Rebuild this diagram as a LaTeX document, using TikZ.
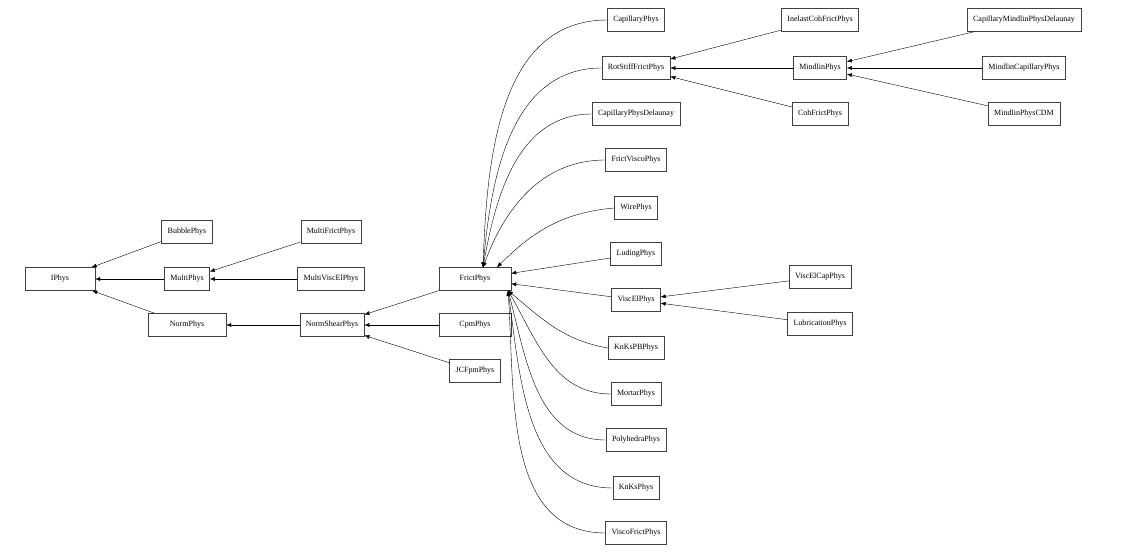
\documentclass[tikz,border=0pt]{standalone}
\usepackage{fontspec}
\setmainfont{Liberation Serif}
\usetikzlibrary{arrows.meta}
\begin{document}
\begin{tikzpicture}[x=1pt,y=-1pt,
  cls/.style={draw=black!75,fill=white,font=\fontsize{8}{9}\selectfont,minimum height=23pt,inner xsep=6pt,inner ysep=0pt},
  arr/.style={-{Latex[length=5pt,width=4pt]},black,line width=0.4pt}]
\useasboundingbox (0,0) rectangle (1142,556);
\node[cls,minimum width=70pt] (IPhys) at (60,279) {IPhys};
\node[cls] (BubblePhys) at (187,232) {BubblePhys};
\node[cls] (MultiPhys) at (187,279) {MultiPhys};
\node[cls,minimum width=78pt] (NormPhys) at (187,325) {NormPhys};
\node[cls] (MultiFrictPhys) at (331,232) {MultiFrictPhys};
\node[cls] (MultiViscElPhys) at (331,279) {MultiViscElPhys};
\node[cls] (NormShearPhys) at (332,325) {NormShearPhys};
\node[cls,minimum width=72pt] (FrictPhys) at (475,279) {FrictPhys};
\node[cls,minimum width=72pt] (CpmPhys) at (475,325) {CpmPhys};
\node[cls] (JCFpmPhys) at (475,371) {JCFpmPhys};
\node[cls] (CapillaryPhys) at (636,20) {CapillaryPhys};
\node[cls] (RotStiffFrictPhys) at (636,68) {RotStiffFrictPhys};
\node[cls] (CapillaryPhysDelaunay) at (636,114) {CapillaryPhysDelaunay};
\node[cls] (FrictViscoPhys) at (636,160) {FrictViscoPhys};
\node[cls] (WirePhys) at (636,208) {WirePhys};
\node[cls] (LudingPhys) at (636,254) {LudingPhys};
\node[cls] (ViscElPhys) at (636,300) {ViscElPhys};
\node[cls] (KnKsPBPhys) at (636,348) {KnKsPBPhys};
\node[cls] (MortarPhys) at (636,394) {MortarPhys};
\node[cls] (PolyhedraPhys) at (636,440) {PolyhedraPhys};
\node[cls] (KnKsPhys) at (636,488) {KnKsPhys};
\node[cls] (ViscoFrictPhys) at (636,533) {ViscoFrictPhys};
\node[cls] (InelastCohFrictPhys) at (820,20) {InelastCohFrictPhys};
\node[cls] (MindlinPhys) at (820,68) {MindlinPhys};
\node[cls] (CohFrictPhys) at (820,114) {CohFrictPhys};
\node[cls] (ViscElCapPhys) at (820,277) {ViscElCapPhys};
\node[cls] (LubricationPhys) at (820,324) {LubricationPhys};
\node[cls] (CapillaryMindlinPhysDelaunay) at (1024,20) {CapillaryMindlinPhysDelaunay};
\node[cls] (MindlinCapillaryPhys) at (1024,68) {MindlinCapillaryPhys};
\node[cls] (MindlinPhysCDM) at (1024,114) {MindlinPhysCDM};
% left part
\draw[arr] (BubblePhys) -- (IPhys);
\draw[arr] (MultiPhys) -- (IPhys);
\draw[arr] (NormPhys) -- (IPhys);
\draw[arr] (MultiFrictPhys) -- (MultiPhys);
\draw[arr] (MultiViscElPhys) -- (MultiPhys);
\draw[arr] (NormShearPhys) -- (NormPhys);
\draw[arr] (FrictPhys) -- (NormShearPhys);
\draw[arr] (CpmPhys) -- (NormShearPhys);
\draw[arr] (JCFpmPhys) -- (NormShearPhys);
% to FrictPhys
\coordinate (ft) at (483,267.5);
\draw[arr] (CapillaryPhys.west) to[out=180,in=88] (ft);
\draw[arr] (RotStiffFrictPhys.west) to[out=180,in=85] (ft);
\draw[arr] (CapillaryPhysDelaunay.west) to[out=180,in=80] (ft);
\draw[arr] (FrictViscoPhys.west) to[out=180,in=70] (ft);
\draw[arr] (WirePhys.west) to[out=185,in=45] ([xshift=22pt]FrictPhys.north);
\draw[arr] (LudingPhys) -- (FrictPhys);
\draw[arr] (ViscElPhys) -- (FrictPhys);
\coordinate (fb) at (508,290.5);
\draw[arr] (KnKsPBPhys.west) to[out=170,in=-40] (fb);
\draw[arr] (MortarPhys.west) to[out=180,in=-60] (fb);
\draw[arr] (PolyhedraPhys.west) to[out=180,in=-75] (fb);
\draw[arr] (KnKsPhys.west) to[out=180,in=-82] (fb);
\draw[arr] (ViscoFrictPhys.west) to[out=180,in=-86] (fb);
% right part
\draw[arr] (InelastCohFrictPhys) -- (RotStiffFrictPhys);
\draw[arr] (MindlinPhys) -- (RotStiffFrictPhys);
\draw[arr] (CohFrictPhys) -- (RotStiffFrictPhys);
\draw[arr] (CapillaryMindlinPhysDelaunay) -- (MindlinPhys);
\draw[arr] (MindlinCapillaryPhys) -- (MindlinPhys);
\draw[arr] (MindlinPhysCDM) -- (MindlinPhys);
\draw[arr] (ViscElCapPhys) -- (ViscElPhys);
\draw[arr] (LubricationPhys) -- (ViscElPhys);
\end{tikzpicture}
\end{document}
